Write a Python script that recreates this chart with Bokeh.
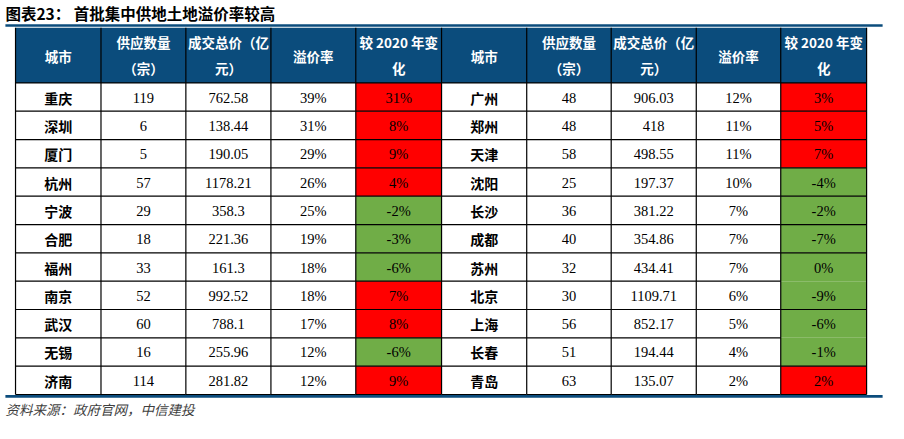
from bokeh.plotting import figure
from bokeh.models import Range1d
from bokeh.core.properties import value
from bokeh.embed import file_html
from bokeh.resources import INLINE

# ---------------- data ----------------
headers = ["城市", "供应数量\n（宗）", "成交总价（亿\n元）", "溢价率", "较 2020 年变\n化"]

left_cities = ["重庆", "深圳", "厦门", "杭州", "宁波", "合肥", "福州", "南京", "武汉", "无锡", "济南"]
left_supply = [119, 6, 5, 57, 29, 18, 33, 52, 60, 16, 114]
left_total = [762.58, 138.44, 190.05, 1178.21, 358.3, 221.36, 161.3, 992.52, 788.1, 255.96, 281.82]
left_premium = [39, 31, 29, 26, 25, 19, 18, 18, 17, 12, 12]
left_change = [31, 8, 9, 4, -2, -3, -6, 7, 8, -6, 9]

right_cities = ["广州", "郑州", "天津", "沈阳", "长沙", "成都", "苏州", "北京", "上海", "长春", "青岛"]
right_supply = [48, 48, 58, 25, 36, 40, 32, 30, 56, 51, 63]
right_total = [906.03, 418, 498.55, 197.37, 381.22, 354.86, 434.41, 1109.71, 852.17, 194.44, 135.07]
right_premium = [12, 11, 11, 10, 7, 7, 7, 6, 5, 4, 2]
right_change = [3, 5, 7, -4, -2, -7, 0, -9, -6, -1, 2]

title = "图表23：  首批集中供地土地溢价率较高"
source = "资料来源：政府官网，中信建投"

# ---------------- layout ----------------
NAVY = "#0B4C7C"
RED = "#FF0000"
GREEN = "#70AD47"

col_edges = [15.3, 102.3, 188.7, 275.3, 361.7, 449.0, 535.7, 621.7, 708.3, 794.3, 881.7]
head_top, head_bot = 28.3, 85.5
row_h = 29.4
n = len(left_cities)
row_edges = [head_bot + i * row_h for i in range(n + 1)]

# data coordinates = reference pixel grid (904 x 439), fitted into 888 x 423
p = figure(width=888, height=423, output_backend="svg", toolbar_location=None,
           x_range=Range1d(0, 904), y_range=Range1d(439, 0),
           min_border=0)
p.axis.visible = False
p.grid.visible = False
p.outline_line_color = None
p.background_fill_color = "white"
p.border_fill_color = "white"

# header background
p.quad(left=[col_edges[0]], right=[col_edges[-1]], top=[head_top], bottom=[head_bot],
       fill_color=NAVY, line_color=None)

# coloured change cells
ql, qr, qt, qb, qc = [], [], [], [], []
for side, changes in ((0, left_change), (1, right_change)):
    ci = 4 + side * 5
    for i, v in enumerate(changes):
        ql.append(col_edges[ci]); qr.append(col_edges[ci + 1])
        qt.append(row_edges[i]); qb.append(row_edges[i + 1])
        qc.append(RED if v > 0 else GREEN)
p.quad(left=ql, right=qr, top=qt, bottom=qb, fill_color=qc, line_color=None)

# grid lines
x0s, x1s, y0s, y1s = [], [], [], []
for x in col_edges:
    x0s.append(x); x1s.append(x); y0s.append(head_top); y1s.append(row_edges[-1])
# merged-looking cells in the right change column (no line inside)
skip_right = {7, 9}
for j, y in enumerate(row_edges):
    for c in range(10):
        if c == 9 and j in skip_right:
            continue
        x0s.append(col_edges[c]); x1s.append(col_edges[c + 1]); y0s.append(y); y1s.append(y)
p.segment(x0=x0s, y0=y0s, x1=x1s, y1=y1s, line_color="black", line_width=1.2)

# blue rules
p.segment(x0=[5, 5], y0=[26, 410.8], x1=[898, 898], y1=[26, 410.8], line_color=NAVY, line_width=2.6)

# header text
hx, hy, ht = [], [], []
for side in range(2):
    for c, h in enumerate(headers):
        cx = (col_edges[side * 5 + c] + col_edges[side * 5 + c + 1]) / 2
        parts = h.split("\n")
        if len(parts) == 1:
            hx.append(cx); hy.append(57.5); ht.append(parts[0])
        else:
            hx += [cx, cx]; hy += [43.5, 70.5]; ht += parts
p.text(x=hx, y=hy, text=ht, text_color="white", text_font=value("Noto Sans CJK SC"),
       text_font_style="bold", text_font_size="13.5px", text_align="center", text_baseline="middle")

# body text
cx_city, cy_city, t_city = [], [], []
nx, ny, nt = [], [], []
for side, (cities, sup, tot, prem, chg) in enumerate(
        ((left_cities, left_supply, left_total, left_premium, left_change),
         (right_cities, right_supply, right_total, right_premium, right_change))):
    base = side * 5
    centers = [(col_edges[base + c] + col_edges[base + c + 1]) / 2 for c in range(5)]
    for i in range(n):
        yc = (row_edges[i] + row_edges[i + 1]) / 2 + 0.5
        cx_city.append(centers[0]); cy_city.append(yc); t_city.append(cities[i])
        vals = [str(sup[i]), f"{tot[i]:g}", f"{prem[i]}%", f"{chg[i]}%"]
        for k, s in enumerate(vals):
            nx.append(centers[k + 1]); ny.append(yc); nt.append(s)

p.text(x=cx_city, y=cy_city, text=t_city, text_color="black", text_font=value("Noto Sans CJK SC"),
       text_font_style="bold", text_font_size="14px", text_align="center", text_baseline="middle")
p.text(x=nx, y=ny, text=nt, text_color="black", text_font=value("Liberation Serif"),
       text_font_size="14.5px", text_align="center", text_baseline="middle")

# title and source
p.text(x=[5], y=[12.5], text=[title], text_color="black", text_font=value("Noto Sans CJK SC"),
       text_font_style="bold", text_font_size="15.5px", text_align="left", text_baseline="middle")
p.text(x=[5], y=[424], text=[source], text_color="#404040", text_font=value("Noto Sans CJK SC"),
       text_font_style="italic", text_font_size="13.5px", text_align="left", text_baseline="middle")

open("out.html", "w").write(file_html(p, INLINE))
